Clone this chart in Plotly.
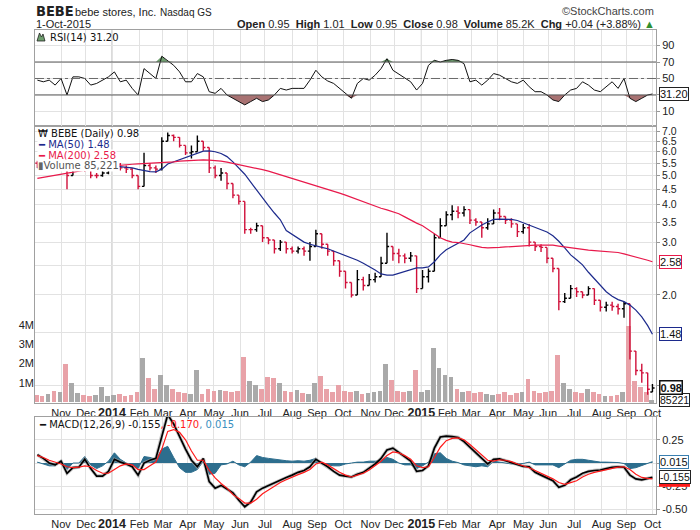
import math
import pandas as pd
import plotly.graph_objects as go

# ---------------- data (weekly samples) ----------------
dates = list(pd.date_range("2013-10-04", "2015-09-25", freq="W-FRI").strftime("%Y-%m-%d")) + ["2015-10-01"]

price_open = [5.50, 5.45, 5.40, 5.50,
              5.35, 5.45, 5.00, 5.30, 5.30,
              5.25, 5.00, 5.00, 5.10,
              5.20, 5.45, 5.30, 5.25, 5.00,
              4.60, 5.40, 5.30, 5.25,
              6.50, 6.80, 6.70, 6.30,
              5.95, 6.00, 6.50, 6.20,
              5.30, 5.00, 5.10, 4.70, 4.30,
              4.10, 3.30, 3.30, 3.40,
              3.10, 3.05, 2.85, 3.00,
              2.85, 2.80, 2.85, 2.80, 2.90,
              3.20, 2.95, 2.80, 2.60,
              2.40, 2.20, 2.00, 2.25, 2.15,
              2.25, 2.30, 2.55, 2.90,
              2.75, 2.70, 2.65, 2.70,
              2.10, 2.30, 2.40, 3.10, 3.40,
              3.70, 3.80, 3.75, 3.85,
              3.55, 3.50, 3.35, 3.45,
              3.75, 3.65, 3.55, 3.45,
              3.25, 3.35, 3.00, 2.90, 2.88,
              2.65, 2.45, 1.90, 1.95,
              2.10, 2.05, 2.00, 2.10, 1.92,
              1.82, 1.85, 1.83, 1.80,
              1.87, 1.30, 1.12, 1.10,
              0.95]
price_high = [5.60, 5.55, 5.60, 5.55,
              5.60, 5.45, 5.40, 5.40, 5.35,
              5.25, 5.10, 5.20, 5.30,
              5.60, 5.50, 5.40, 5.30, 5.00,
              5.95, 5.50, 5.40, 6.70,
              6.95, 6.85, 6.70, 6.30,
              6.30, 6.80, 6.50, 6.20,
              5.40, 5.30, 5.10, 4.70, 4.30,
              4.10, 3.35, 3.48, 3.40,
              3.10, 3.05, 3.05, 3.00,
              2.90, 2.90, 2.90, 3.00, 3.30,
              3.20, 2.95, 2.80, 2.60,
              2.40, 2.20, 2.42, 2.30, 2.35,
              2.37, 2.68, 3.22, 2.90,
              2.85, 2.75, 2.78, 2.70,
              2.42, 2.45, 3.20, 3.60, 3.80,
              3.98, 3.95, 3.95, 3.85,
              3.60, 3.50, 3.60, 3.85,
              3.90, 3.65, 3.60, 3.45,
              3.45, 3.45, 3.00, 2.95, 2.88,
              2.65, 2.45, 2.03, 2.16,
              2.12, 2.05, 2.14, 2.10, 1.92,
              1.90, 1.90, 1.87, 1.90,
              1.87, 1.30, 1.18, 1.10,
              1.01]
price_low = [5.30, 5.25, 5.35, 5.25,
             5.30, 4.50, 5.00, 5.20, 5.15,
             4.90, 4.90, 4.95, 5.05,
             5.20, 5.20, 5.10, 4.90, 4.50,
             4.60, 5.20, 5.10, 5.20,
             6.50, 6.50, 6.20, 5.85,
             5.70, 6.00, 6.05, 5.10,
             4.90, 4.80, 4.50, 4.20, 4.00,
             3.20, 3.20, 3.25, 3.00,
             2.95, 2.75, 2.80, 2.75,
             2.75, 2.75, 2.70, 2.60, 2.90,
             2.85, 2.70, 2.50, 2.30,
             2.10, 1.96, 2.00, 2.07, 2.15,
             2.20, 2.30, 2.55, 2.60,
             2.55, 2.55, 2.58, 2.03,
             2.10, 2.20, 2.40, 3.10, 3.40,
             3.55, 3.60, 3.65, 3.45,
             3.40, 3.10, 3.30, 3.45,
             3.55, 3.45, 3.35, 3.12,
             3.20, 2.90, 2.80, 2.78, 2.55,
             2.38, 1.78, 1.88, 1.95,
             1.97, 1.95, 2.00, 1.85, 1.76,
             1.76, 1.77, 1.72, 1.68,
             1.22, 1.08, 1.02, 0.93,
             0.95]
price_close = [5.45, 5.40, 5.50, 5.35,
               5.45, 5.00, 5.30, 5.30, 5.25,
               5.00, 5.00, 5.10, 5.20,
               5.45, 5.30, 5.25, 5.00, 4.60,
               5.40, 5.30, 5.25, 6.50,
               6.80, 6.70, 6.30, 5.95,
               6.00, 6.50, 6.20, 5.30,
               5.00, 5.10, 4.70, 4.30, 4.10,
               3.30, 3.30, 3.40, 3.10,
               3.05, 2.85, 3.00, 2.85,
               2.80, 2.85, 2.80, 2.90, 3.20,
               2.95, 2.80, 2.60, 2.40,
               2.20, 2.00, 2.25, 2.15, 2.25,
               2.30, 2.55, 2.90, 2.75,
               2.70, 2.65, 2.70, 2.10,
               2.30, 2.40, 3.10, 3.40, 3.70,
               3.80, 3.75, 3.85, 3.55,
               3.50, 3.35, 3.45, 3.75,
               3.65, 3.55, 3.45, 3.25,
               3.35, 3.00, 2.90, 2.88, 2.65,
               2.45, 1.90, 1.95, 2.10,
               2.05, 2.00, 2.10, 1.92, 1.82,
               1.85, 1.83, 1.80, 1.87,
               1.30, 1.12, 1.10, 0.97,
               0.98]
ma50 = [5.30, 5.32, 5.34, 5.36,
        5.38, 5.38, 5.38, 5.38, 5.37,
        5.35, 5.33, 5.33, 5.35,
        5.37, 5.35, 5.33, 5.30, 5.24,
        5.19, 5.15, 5.14, 5.25,
        5.46, 5.55, 5.63, 5.72,
        5.80, 5.92, 6.03, 6.04,
        6.00, 5.92, 5.78, 5.55, 5.30,
        5.05, 4.75, 4.47, 4.18,
        3.97, 3.75, 3.56, 3.28,
        3.18, 3.10, 3.00, 2.95, 2.91,
        2.88, 2.85, 2.80, 2.76,
        2.71, 2.66, 2.61, 2.55, 2.49,
        2.42, 2.35, 2.33, 2.33,
        2.36, 2.39, 2.42, 2.46,
        2.46, 2.48, 2.58, 2.72, 2.83,
        2.90, 2.96, 3.05, 3.22,
        3.32, 3.42, 3.50, 3.57,
        3.58, 3.58, 3.57, 3.54,
        3.48, 3.42, 3.37, 3.31, 3.24,
        3.15, 3.02, 2.87, 2.72,
        2.62, 2.52, 2.38, 2.26, 2.15,
        2.05, 1.98, 1.93, 1.90,
        1.85, 1.78, 1.69, 1.58,
        1.48]
ma200 = [4.89, 4.93, 4.98, 5.03,
         5.07, 5.10, 5.13, 5.17, 5.21,
         5.25, 5.29, 5.33, 5.36,
         5.38, 5.41, 5.43, 5.45, 5.47,
         5.48, 5.49, 5.50, 5.51,
         5.52, 5.55, 5.58, 5.60,
         5.62, 5.63, 5.64, 5.63,
         5.62, 5.58, 5.54, 5.49, 5.44,
         5.40, 5.35, 5.29, 5.23,
         5.17, 5.10, 5.03, 4.96,
         4.90, 4.83, 4.76, 4.69, 4.62,
         4.56, 4.50, 4.44, 4.37,
         4.30, 4.23, 4.15, 4.07, 4.01,
         3.95, 3.89, 3.84, 3.79,
         3.73, 3.64, 3.55, 3.47,
         3.40, 3.30, 3.19, 3.10, 3.04,
         3.00, 2.99, 2.97, 2.94,
         2.91, 2.88, 2.87, 2.87,
         2.88, 2.89, 2.90, 2.91,
         2.92, 2.92, 2.93, 2.93, 2.93,
         2.93, 2.91, 2.89, 2.87,
         2.86, 2.84, 2.82, 2.81, 2.80,
         2.79, 2.78, 2.77, 2.74,
         2.71, 2.68, 2.64, 2.61,
         2.58]
volume_m = [0.35, 0.30, 0.40, 0.60,
            0.50, 2.00, 1.00, 0.45, 0.35,
            0.30, 0.35, 0.80, 0.30,
            0.35, 0.40, 0.30, 0.35, 0.50,
            2.30, 1.25, 0.70, 1.40,
            0.90, 0.70, 0.50, 0.45,
            0.40, 1.65, 0.40, 0.70,
            0.60, 0.65, 0.55, 0.50, 0.60,
            2.35, 1.10, 0.90, 0.70,
            1.30, 1.25, 1.00, 0.60,
            0.50, 0.65, 0.45, 0.40, 1.00,
            1.35, 0.70, 0.50, 0.90,
            0.60, 0.50, 0.55, 0.40, 0.45,
            0.50, 0.60, 2.00, 1.15,
            0.60, 0.50, 0.55, 1.65,
            0.50, 0.65, 2.80, 1.75, 1.40,
            1.30, 0.70, 0.50, 0.60,
            0.45, 0.50, 0.40, 0.35,
            0.40, 0.50, 0.35, 0.45,
            0.50, 1.20, 0.60, 0.45, 0.50,
            0.60, 2.45, 1.00, 0.70,
            0.50, 0.45, 0.70, 0.50, 0.40,
            0.30, 0.30, 0.35, 0.50,
            3.95, 1.10, 0.80, 0.50,
            0.085221]
rsi = [48, 46, 48, 42,
       50, 30, 52, 52, 50,
       42, 44, 48, 52,
       58, 46, 48, 38, 30,
       62, 56, 50, 77,
       71, 66, 58, 46,
       46, 56, 52, 34,
       32, 38, 30, 26, 22,
       18, 22, 26, 22,
       24, 30, 38, 36,
       38, 38, 38, 48, 60,
       52, 47, 44, 38,
       32, 26, 44, 50, 48,
       54, 62, 74, 60,
       55, 50, 46, 36,
       44, 66, 72, 70, 72,
       73, 72, 68, 46,
       48, 42, 48, 56,
       54, 50, 46, 44,
       48, 40, 34, 34, 30,
       24, 22, 30, 36,
       38, 46, 42, 36, 34,
       40, 46, 38, 50,
       26, 22, 26, 30,
       31.20]
macd = [0.09, 0.05, 0.00, -0.02,
        0.02, -0.11, -0.05, -0.045, 0.04,
        -0.06, -0.14, -0.14, -0.09,
        0.04, 0.01, -0.01, -0.04, -0.13,
        0.00, 0.03, 0.05, 0.30,
        0.52, 0.42, 0.28, 0.15,
        0.03, -0.04, 0.05, -0.20,
        -0.27, -0.24, -0.28, -0.32, -0.40,
        -0.47, -0.42, -0.31, -0.27,
        -0.24, -0.21, -0.18, -0.155,
        -0.13, -0.10, -0.08, -0.04, 0.04,
        0.00, -0.04, -0.09, -0.13,
        -0.14, -0.15, -0.12, -0.10, -0.055,
        -0.01, 0.05, 0.14, 0.16,
        0.11, 0.06, 0.02, -0.09,
        -0.08, -0.03, 0.16, 0.28, 0.29,
        0.285, 0.275, 0.23, 0.17,
        0.10, 0.05, -0.01, 0.04,
        0.045, 0.025, 0.005, -0.02,
        -0.035, -0.04, -0.10, -0.13, -0.16,
        -0.19, -0.26, -0.24, -0.18,
        -0.15, -0.11, -0.09, -0.08, -0.075,
        -0.06, -0.045, -0.04, -0.045,
        -0.13, -0.17, -0.18, -0.165,
        -0.155]
signal = [0.08, 0.06, 0.03, 0.01,
          -0.01, -0.04, -0.05, -0.045, -0.03,
          -0.04, -0.08, -0.11, -0.11,
          -0.07, -0.03, -0.01, -0.02, -0.07,
          -0.07, -0.03, 0.01, 0.15,
          0.34, 0.36, 0.33, 0.25,
          0.13, 0.03, 0.03, -0.08,
          -0.16, -0.22, -0.27, -0.34, -0.38,
          -0.43, -0.43, -0.39, -0.33,
          -0.29, -0.25, -0.21, -0.18,
          -0.15, -0.125, -0.10, -0.07, -0.01,
          0.01, -0.02, -0.06, -0.10,
          -0.13, -0.15, -0.13, -0.11, -0.075,
          -0.03, 0.02, 0.08, 0.12,
          0.11, 0.08, 0.04, -0.03,
          -0.05, -0.04, 0.06, 0.17, 0.24,
          0.265, 0.27, 0.25, 0.20,
          0.14, 0.08, 0.03, 0.02,
          0.035, 0.03, 0.015, -0.01,
          -0.03, -0.05, -0.08, -0.11, -0.14,
          -0.17, -0.21, -0.23, -0.21,
          -0.19, -0.15, -0.12, -0.10, -0.085,
          -0.07, -0.055, -0.045, -0.04,
          -0.07, -0.12, -0.155, -0.165,
          -0.170]
month_labels = ["Nov", "Dec", "2014", "Feb", "Mar", "Apr", "May", "Jun", "Jul", "Aug", "Sep", "Oct",
                "Nov", "Dec", "2015", "Feb", "Mar", "Apr", "May", "Jun", "Jul", "Aug", "Sep", "Oct"]
price_ticks = [1.0, 1.5, 2.0, 2.5, 3.0, 3.5, 4.0, 4.5, 5.0, 5.5, 6.0, 6.5, 7.0]
price_tick_text = ["", "", "2.0", "", "3.0", "3.5", "4.0", "4.5", "5.0", "5.5", "6.0", "6.5", "7.0"]
volume_ticks = [1, 2, 3, 4]
volume_tick_text = ["1M", "2M", "3M", "4M"]
rsi_ticks = [10, 30, 50, 70, 90]
rsi_tick_text = ["10", "", "50", "70", "90"]
macd_ticks = [-0.5, -0.25, 0, 0.25]
macd_tick_text = ["-0.50", "-0.25", "", "0.25"]

# ---------------- derived ----------------
n = len(dates)
hist = [m - s for m, s in zip(macd, signal)]
month_ticks = list(pd.date_range("2013-11-01", "2015-10-01", freq="BMS").strftime("%Y-%m-%d"))
tick_text = [("<b><span style='font-size:12.5px'>%s</span></b>" % t) if t.isdigit() else t for t in month_labels]
year_lines = [d for d, t in zip(month_ticks, month_labels) if t.isdigit()]
vol_colors = ["#a9a9a9" if c >= o else "#e8a2a8" for o, c in zip(price_open, price_close)]
rsi_over = [max(v, 70) for v in rsi]
rsi_under = [min(v, 30) for v in rsi]
DAY = 86400000

# ---------------- geometry helpers ----------------
W, H = 700, 530
ML, MR, MT, MB = 35, 44, 30, 16
PW, PH = W - ML - MR, H - MT - MB


def px(x):
    return (x - ML) / PW


def py(y):
    return (H - MB - y) / PH


dom_rsi = [py(126), 1.0]
dom_main = [py(403), py(126)]
dom_macd = [0.0, py(417)]

RED = "#d0103a"
NAVY = "#1c2a8c"
CRIMSON = "#e8194b"
HISTC = "#2d6e8e"
GRID = "#e2e2e2"
BORDER = "#a0a0a0"
FONT = "Liberation Sans, Arial, sans-serif"
LFONT = "DejaVu Sans, Verdana, sans-serif"

fig = go.Figure()

# volume (base axis of the main panel, drawn behind price)
fig.add_trace(go.Bar(x=dates, y=volume_m, xaxis="x", yaxis="y",
                     marker=dict(color=vol_colors, line=dict(width=0)),
                     width=4 * DAY, offset=-3 * DAY, hoverinfo="skip"))
# price bars
fig.add_trace(go.Ohlc(x=dates, open=price_open, high=price_high, low=price_low, close=price_close,
                      xaxis="x", yaxis="y2", tickwidth=0.3,
                      increasing=dict(line=dict(color="black", width=1.4)),
                      decreasing=dict(line=dict(color=RED, width=1.4)), hoverinfo="skip"))
fig.add_trace(go.Scatter(x=dates, y=ma50, xaxis="x", yaxis="y2", mode="lines",
                         line=dict(color=NAVY, width=1.2), hoverinfo="skip"))
fig.add_trace(go.Scatter(x=dates, y=ma200, xaxis="x", yaxis="y2", mode="lines",
                         line=dict(color=CRIMSON, width=1.2), hoverinfo="skip"))

# RSI panel
fig.add_trace(go.Scatter(x=dates, y=[70] * n, xaxis="x2", yaxis="y3", mode="lines",
                         line=dict(width=0), hoverinfo="skip"))
fig.add_trace(go.Scatter(x=dates, y=rsi_over, xaxis="x2", yaxis="y3", mode="lines", fill="tonexty",
                         fillcolor="#6f9f6f", line=dict(width=0), hoverinfo="skip"))
fig.add_trace(go.Scatter(x=dates, y=[30] * n, xaxis="x2", yaxis="y3", mode="lines",
                         line=dict(width=0), hoverinfo="skip"))
fig.add_trace(go.Scatter(x=dates, y=rsi_under, xaxis="x2", yaxis="y3", mode="lines", fill="tonexty",
                         fillcolor="#a87272", line=dict(width=0), hoverinfo="skip"))
fig.add_trace(go.Scatter(x=dates, y=rsi, xaxis="x2", yaxis="y3", mode="lines",
                         line=dict(color="#111", width=1), hoverinfo="skip"))

# MACD panel
fig.add_trace(go.Scatter(x=dates, y=hist, xaxis="x3", yaxis="y4", mode="lines", fill="tozeroy",
                         fillcolor=HISTC, line=dict(color=HISTC, width=1), hoverinfo="skip"))
fig.add_trace(go.Scatter(x=dates, y=macd, xaxis="x3", yaxis="y4", mode="lines",
                         line=dict(color="rgba(165,165,165,0.65)", width=3.4), hoverinfo="skip"))
fig.add_trace(go.Scatter(x=dates, y=macd, xaxis="x3", yaxis="y4", mode="lines",
                         line=dict(color="black", width=1.7), hoverinfo="skip"))
fig.add_trace(go.Scatter(x=dates, y=signal, xaxis="x3", yaxis="y4", mode="lines",
                         line=dict(color="#ff1a1a", width=1.2), hoverinfo="skip"))

xrange = ["2013-10-02", "2015-10-06"]
rb = [dict(bounds=["sat", "mon"])]
tickfont = dict(family=FONT, size=11, color="#222")
pricefont = dict(family=FONT, size=10.5, color="#222")


def xaxis_cfg(anchor, labels):
    return dict(type="date", range=xrange, rangebreaks=rb, anchor=anchor, domain=[0, 1],
                tickmode="array", tickvals=month_ticks, ticktext=tick_text,
                showticklabels=labels, ticks="", showgrid=True, gridcolor=GRID, gridwidth=1,
                showline=True, mirror=True, linecolor=BORDER, linewidth=1,
                tickfont=tickfont, zeroline=False, fixedrange=True)


def yaxis_right(domain, anchor, rng, tv, tt, **kw):
    d = dict(domain=domain, anchor=anchor, side="right", range=rng, tickmode="array",
             tickvals=tv, ticktext=tt, showgrid=True, gridcolor=GRID, ticks="outside",
             ticklen=3, tickcolor="#999", showline=True, mirror=True, linecolor=BORDER,
             tickfont=tickfont, zeroline=False, fixedrange=True)
    d.update(kw)
    return d


layout = dict(
    width=W, height=H, margin=dict(l=ML, r=MR, t=MT, b=MB, autoexpand=False),
    paper_bgcolor="white", plot_bgcolor="white", showlegend=False, bargap=0,
    font=dict(family=FONT, size=11, color="#222"),
    xaxis=dict(xaxis_cfg("y", True), rangeslider=dict(visible=False)),
    xaxis2=dict(xaxis_cfg("y3", False), matches="x"),
    xaxis3=dict(xaxis_cfg("y4", True), matches="x"),
    yaxis=dict(domain=dom_main, anchor="x", side="left", range=[-0.05, 14.375],
               tickmode="array", tickvals=volume_ticks, ticktext=volume_tick_text,
               showgrid=False, ticks="", showline=False, zeroline=False,
               tickfont=tickfont, fixedrange=True),
    yaxis2=yaxis_right(dom_main, "x", [math.log10(0.873), math.log10(7.31)], price_ticks,
                       price_tick_text, type="log", overlaying="y", tickfont=pricefont),
    yaxis3=yaxis_right(dom_rsi, "x2", [-7.6, 108.8], rsi_ticks, rsi_tick_text),
    yaxis4=yaxis_right(dom_macd, "x3", [-0.548, 0.495], macd_ticks, macd_tick_text),
)
fig.update_layout(**layout)

# ---------------- shapes ----------------
shapes = []
for d in year_lines:
    for xr, yr in (("x", "y domain"), ("x2", "y3 domain"), ("x3", "y4 domain")):
        shapes.append(dict(type="line", xref=xr, yref=yr, x0=d, x1=d, y0=0, y1=1,
                           line=dict(color="#b4b4b4", width=1), layer="below"))
for lvl in (70, 30):
    shapes.append(dict(type="line", xref="x2 domain", yref="y3", x0=0, x1=1, y0=lvl, y1=lvl,
                       line=dict(color="#5a5a5a", width=1)))
shapes.append(dict(type="line", xref="x2 domain", yref="y3", x0=0, x1=1, y0=50, y1=50,
                   line=dict(color="#6a6a6a", width=1, dash="dashdot")))
# RSI icon (small mountain)
shapes.append(dict(type="path", xref="paper", yref="paper",
                   path="M %f,%f L %f,%f L %f,%f L %f,%f L %f,%f Z" % (
                       px(37), py(41), px(39.5), py(33), px(41.5), py(37), px(43), py(34), px(45), py(41)),
                   fillcolor="#6f9f6f", line=dict(color="#222", width=0.8)))
# signal-line value marker (mostly hidden behind the MACD value box)
shapes.append(dict(type="rect", xref="paper", yref="y4", xsizemode="pixel", ysizemode="pixel",
                   xanchor=1.0, yanchor=signal[-1], x0=3, x1=34, y0=-5, y1=-8,
                   fillcolor="#ff1a1a", line=dict(width=0)))
fig.update_layout(shapes=shapes)

# ---------------- annotations ----------------
ann = []


def text(x, y, s, size=11, family=FONT, color="#222", anchor="left", bg=None):
    a = dict(xref="paper", yref="paper", x=px(x), y=py(y), text=s, showarrow=False,
             xanchor=anchor, yanchor="middle", font=dict(family=family, size=size, color=color))
    if bg:
        a.update(bgcolor=bg, borderpad=0)
    ann.append(a)


text(34, 11, "<b>BEBE</b>", size=14.5, family="Liberation Sans Narrow, DejaVu Sans Condensed, Liberation Sans, Arial")
text(73, 12, "bebe stores, Inc.", size=11)
text(158, 12, "Nasdaq GS", size=10)
text(656, 11, "©StockCharts.com", size=11, color="#444", anchor="right")
text(34, 24, "1-Oct-2015", size=11)
header = ("<b>Open</b> %.2f  <b>High</b> %.2f  <b>Low</b> %.2f  <b>Close</b> %.2f  "
          "<b>Volume</b> %.1fK  <b>Chg</b> +0.04 (+3.88%%) <span style='color:#2f8f2f'>▲</span>") % (
    price_open[-1], price_high[-1], price_low[-1], price_close[-1], volume_m[-1] * 1000)
text(657, 24, header, size=11, anchor="right")

text(48, 37, "RSI(14) %.2f" % rsi[-1], size=10, family=LFONT, color="#111")

text(37, 133, "₩ BEBE (Daily) %.2f" % price_close[-1], size=10, family=LFONT, color="#111", bg="white")
text(37, 144, "<b>━</b> MA(50) %.2f" % ma50[-1], size=10, family=LFONT, color=NAVY, bg="white")
text(37, 155, "<b>━</b> MA(200) %.2f" % ma200[-1], size=10, family=LFONT, color=CRIMSON, bg="white")
text(37, 166, "<span style='color:#666'>▮</span>Volume %s" % format(round(volume_m[-1] * 1e6), ","),
     size=10, family=LFONT, color="#555", bg="white")

text(37, 424, "<b>━</b> MACD(12,26,9) %.3f<span style='color:#ff1a1a'>, %.3f</span>"
     "<span style='color:#3a8fc0'>, %.3f</span>" % (macd[-1], signal[-1], hist[-1]),
     size=10, family=LFONT, color="#111")


def box(yref, y, s, border, bw=1, bg="white", fcolor="#111", size=11):
    ann.append(dict(xref="paper", yref=yref, x=1.0, y=y, xanchor="left", yanchor="middle",
                    xshift=3, text=s, showarrow=False, bgcolor=bg, bordercolor=border,
                    borderwidth=bw, borderpad=0, font=dict(family=FONT, size=size, color=fcolor)))


box("y3", rsi[-1], "%.2f" % rsi[-1], "#222")
box("y2", math.log10(ma200[-1]), "%.2f" % ma200[-1], CRIMSON)
box("y2", math.log10(ma50[-1]), "%.2f" % ma50[-1], NAVY)
box("y", volume_m[-1], "%d" % round(volume_m[-1] * 1e6), "#222", size=10.5)
box("y2", math.log10(price_close[-1]), "<b>%.2f</b>" % price_close[-1], "#111", bw=1.5)
box("y4", hist[-1], "%.3f" % hist[-1], "#3a7fb0")
box("y4", macd[-1], "%.3f" % macd[-1], "#222", size=10.5)

fig.update_layout(annotations=ann)
fig.write_html("out.html", config={"displayModeBar": False},
               post_script="document.body.style.margin='0px';document.body.style.padding='0px';")
